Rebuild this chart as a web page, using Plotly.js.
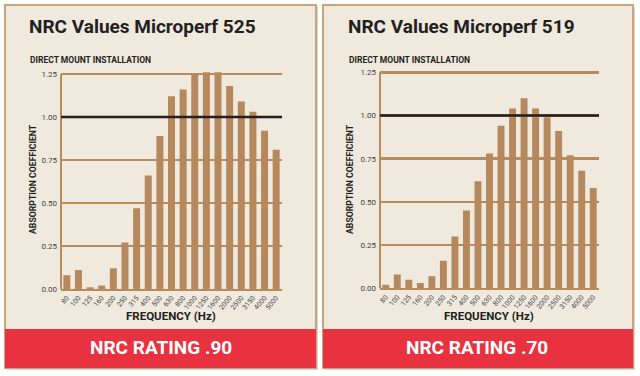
<!DOCTYPE html>
<html><head><meta charset="utf-8">
<script src="https://cdn.plot.ly/plotly-3.0.1.min.js"></script>
<style>html,body{margin:0;padding:0;background:#fff}#c{width:640px;height:376px}</style>
</head><body><div id="c"></div>
<script>
const freqs = ["80","100","125","160","200","250","315","400","500","630","800","1000","1250","1600","2000","2500","3150","4000","5000"];
const micro525 = [0.08,0.11,0.01,0.02,0.12,0.27,0.47,0.66,0.89,1.12,1.16,1.25,1.26,1.26,1.18,1.09,1.03,0.92,0.81];
const micro519 = [0.02,0.08,0.05,0.03,0.07,0.16,0.30,0.45,0.62,0.78,0.94,1.04,1.10,1.04,0.99,0.91,0.77,0.68,0.58];
const titles = ["NRC Values Microperf 525","NRC Values Microperf 519"];
const ratings = ["NRC RATING .90","NRC RATING .70"];
const yTicks = [0,0.25,0.5,0.75,1.0,1.25];
const yTickText = ["0.00","0.25","0.50","0.75","1.00","1.25"];

const NARROW = 'Roboto,"Liberation Sans",sans-serif';
const BAR = '#b5895d', GRID = '#b98a5c', BORDER = '#c9a47e', CREAM = '#efe9de', RED = '#e9323f', INK = '#231f20';

const traces = [
  {type:'bar', x:freqs, y:micro525, xaxis:'x', yaxis:'y', marker:{color:BAR}, hoverinfo:'skip'},
  {type:'bar', x:freqs, y:micro519, xaxis:'x2', yaxis:'y2', marker:{color:BAR}, hoverinfo:'skip'}
];

function xa(dom){return {domain:dom, type:'category', tickangle:-50, tickfont:{family:NARROW,size:7,color:'#444'},
  showgrid:false, showline:true, linecolor:GRID, linewidth:2, ticks:'', fixedrange:true, ticklen:0};}
function ya(dom){return {domain:dom, range:[0,1.28], tickvals:yTicks, ticktext:yTickText, showgrid:true, gridcolor:GRID, gridwidth:2.5,
  zeroline:false, showline:false, tickfont:{family:NARROW,size:8,color:'#444'}, ticks:'', ticklabelstandoff:3, fixedrange:true};}

const panels = [[5,316],[323,633]];
const shapes = [];
panels.forEach(([a,b])=>{
  shapes.push({type:'rect',xref:'paper',yref:'paper',x0:(a+2)/640,x1:(b+2)/640,y0:1-(370)/376,y1:1-(7)/376,fillcolor:'#d8d6d2',line:{width:0},layer:'below'});
  shapes.push({type:'rect',xref:'paper',yref:'paper',x0:a/640,x1:b/640,y0:1-368/376,y1:1-5/376,fillcolor:CREAM,line:{color:BORDER,width:2},layer:'below'});
  shapes.push({type:'rect',xref:'paper',yref:'paper',x0:a/640,x1:b/640,y0:1-368/376,y1:1-329/376,fillcolor:RED,line:{width:0},layer:'below'});
});
[['x','y'],['x2','y2']].forEach(([xr,yr])=>{
  shapes.push({type:'line',xref:xr+' domain',yref:yr,x0:0,x1:0,y0:0,y1:1.25,line:{color:GRID,width:2},layer:'above'});
  shapes.push({type:'line',xref:xr+' domain',yref:yr,x0:0,x1:1,y0:1,y1:1,line:{color:INK,width:2.5},layer:'above'});
});

const annotations = [];
const cx = [[27,171,161],[346,489,477]];
[0,1].forEach(i=>{
  annotations.push({text:'<b>'+titles[i]+'</b>',xref:'paper',yref:'paper',x:cx[i][0]/640,y:1-27/376,xanchor:'left',yanchor:'middle',showarrow:false,font:{family:NARROW,size:19,color:INK}});
  annotations.push({text:'<b>DIRECT MOUNT INSTALLATION</b>',xref:'paper',yref:'paper',x:(cx[i][0]+1)/640,y:1-60/376,xanchor:'left',yanchor:'middle',showarrow:false,font:{family:NARROW,size:8.5,color:INK}});
  annotations.push({text:'<b>FREQUENCY (Hz)</b>',xref:'paper',yref:'paper',x:cx[i][1]/640,y:1-316/376,xanchor:'center',yanchor:'middle',showarrow:false,font:{family:NARROW,size:11.5,color:INK}});
  annotations.push({text:'<b>ABSORPTION COEFFICIENT</b>',xref:'paper',yref:'paper',x:(i?350:33)/640,y:1-179/376,xanchor:'center',yanchor:'middle',textangle:-90,showarrow:false,font:{family:NARROW,size:8.7,color:INK}});
  annotations.push({text:'<b>'+ratings[i]+'</b>',xref:'paper',yref:'paper',x:cx[i][2]/640,y:1-347/376,xanchor:'center',yanchor:'middle',showarrow:false,font:{family:NARROW,size:19,color:'#ffffff'}});
});

const layout = {
  width:640, height:376, margin:{l:0,r:0,t:0,b:0}, paper_bgcolor:'#ffffff', plot_bgcolor:'rgba(0,0,0,0)',
  showlegend:false, bargap:0.4,
  xaxis:xa([61/640,282/640]), yaxis:ya([(376-289)/376,(376-68.8)/376]),
  xaxis2:xa([380/640,599/640]), yaxis2:ya([(376-288.3)/376,(376-67.1)/376]),
  shapes:shapes, annotations:annotations
};
layout.yaxis.anchor='x'; layout.xaxis.anchor='y'; layout.yaxis2.anchor='x2'; layout.xaxis2.anchor='y2';
Plotly.newPlot('c', traces, layout, {staticPlot:true, displayModeBar:false});
</script></body></html>
